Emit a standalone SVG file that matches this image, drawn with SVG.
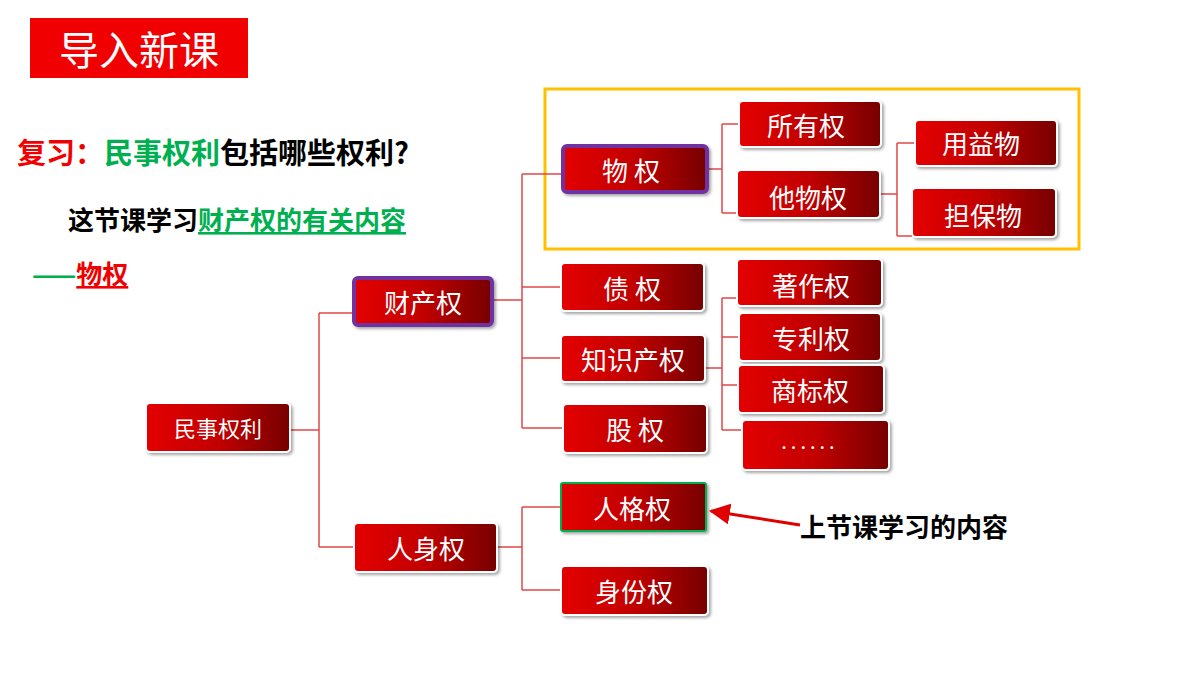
<svg xmlns="http://www.w3.org/2000/svg" width="1200" height="675" viewBox="0 0 1200 675">
<defs>
<linearGradient id="g" x1="0" y1="0" x2="1" y2="0"><stop offset="0" stop-color="#e40000"/><stop offset="0.5" stop-color="#c20000"/><stop offset="1" stop-color="#760000"/></linearGradient>
<marker id="ar" viewBox="0 0 10 10" refX="9" refY="5" markerWidth="7" markerHeight="7" orient="auto"><path d="M0,0 L10,5 L0,10 z" fill="#e00000"/></marker>
<filter id="sh" x="-10%" y="-10%" width="125%" height="135%"><feDropShadow dx="2" dy="2" stdDeviation="1.5" flood-color="#000" flood-opacity="0.35"/></filter>
</defs>
<style>
.b{fill:url(#g);stroke:#fff;stroke-width:2;filter:url(#sh)}
.p{stroke:#7030a0;stroke-width:4}
.gr{stroke:#00b050;stroke-width:2}
.t{fill:#fff;font-family:"Noto Sans CJK SC",sans-serif;font-size:26px;text-anchor:middle;dominant-baseline:central}
.c{fill:none;stroke:#e04848;stroke-width:1.5}
.h{font-family:"Noto Sans CJK SC",sans-serif;font-weight:bold}
</style>
<rect width="1200" height="675" fill="#fff"/>
<g id="title"><rect x="30" y="18" width="218" height="60" fill="#f00000"/><text x="139" y="48" class="t" style="font-size:40px">导入新课</text></g>
<text x="17" y="164" class="h" font-size="29"><tspan fill="#f00000">复习：</tspan><tspan fill="#00b050">民事权利</tspan><tspan fill="#000">包括哪些权利?</tspan></text>
<text x="68" y="230" class="h" font-size="26"><tspan fill="#000">这节课学习</tspan><tspan fill="#00b050" text-decoration="underline">财产权的有关内容</tspan></text>
<text x="32" y="284" class="h" font-size="26"><tspan fill="#00b050">——</tspan><tspan fill="#f00000" text-decoration="underline">物权</tspan></text>
<rect x="545" y="89" width="534" height="160" fill="none" stroke="#ffc000" stroke-width="3"/>
<g id="connectors">
<path class="c" d="M290,430H319M319,313V547M319,313H354M319,547H354"/>
<path class="c" d="M492,300H522M522,174V428M522,174H563M522,287H561M522,358H561M522,428H563"/>
<path class="c" d="M497,547H522M522,507V590M522,507H561M522,590H561"/>
<path class="c" d="M707,169H722M722,124V213M722,124H739M722,213H737"/>
<path class="c" d="M880,194H897M897,143V236M897,143H915M897,236H912"/>
<path class="c" d="M705,368H722M722,298V430M722,298H737M722,337H739M722,385H738M722,430H742"/>
<path d="M800,525 L711,511" stroke="#e00000" stroke-width="3" marker-end="url(#ar)"/>
</g>
<text x="800" y="537" class="h" font-size="26" fill="#000">上节课学习的内容</text>
<g id="n1"><rect class="b" x="146" y="403" width="144" height="49" rx="4"/><text class="t" x="218" y="427" style="font-size:22px">民事权利</text></g>
<g id="n2"><rect class="b p" x="354" y="278" width="138" height="47" rx="4"/><text class="t" x="423" y="301">财产权</text></g>
<g id="n3"><rect class="b" x="354" y="523" width="143" height="49" rx="4"/><text class="t" x="426" y="547">人身权</text></g>
<g id="n4"><rect class="b p" x="563" y="146" width="144" height="46" rx="4"/><text class="t" x="631" y="169">物  权</text></g>
<g id="n5"><rect class="b" x="561" y="263" width="143" height="48" rx="4"/><text class="t" x="632" y="287">债  权</text></g>
<g id="n6"><rect class="b" x="561" y="335" width="144" height="47" rx="4"/><text class="t" x="633" y="358">知识产权</text></g>
<g id="n7"><rect class="b" x="563" y="404" width="144" height="49" rx="4"/><text class="t" x="635" y="428">股  权</text></g>
<g id="n8"><rect class="b gr" x="561" y="483" width="145" height="48" rx="2"/><text class="t" x="632" y="507">人格权</text></g>
<g id="n9"><rect class="b" x="561" y="566" width="147" height="49" rx="4"/><text class="t" x="634" y="590">身份权</text></g>
<g id="n10"><rect class="b" x="739" y="101" width="142" height="46" rx="4"/><text class="t" x="806" y="124">所有权</text></g>
<g id="n11"><rect class="b" x="737" y="170" width="143" height="48" rx="4"/><text class="t" x="808" y="196">他物权</text></g>
<g id="n12"><rect class="b" x="915" y="120" width="142" height="46" rx="4"/><text class="t" x="981" y="142">用益物</text></g>
<g id="n13"><rect class="b" x="912" y="188" width="144" height="49" rx="4"/><text class="t" x="983" y="214">担保物</text></g>
<g id="n14"><rect class="b" x="737" y="259" width="145" height="47" rx="4"/><text class="t" x="811" y="284">著作权</text></g>
<g id="n15"><rect class="b" x="739" y="313" width="142" height="48" rx="4"/><text class="t" x="811" y="337">专利权</text></g>
<g id="n16"><rect class="b" x="738" y="365" width="146" height="48" rx="4"/><text class="t" x="810" y="389">商标权</text></g>
<g id="n17"><rect class="b" x="742" y="420" width="147" height="50" rx="4"/><text class="t" x="810" y="440" style="font-size:20px;letter-spacing:4px">......</text></g>
</svg>
